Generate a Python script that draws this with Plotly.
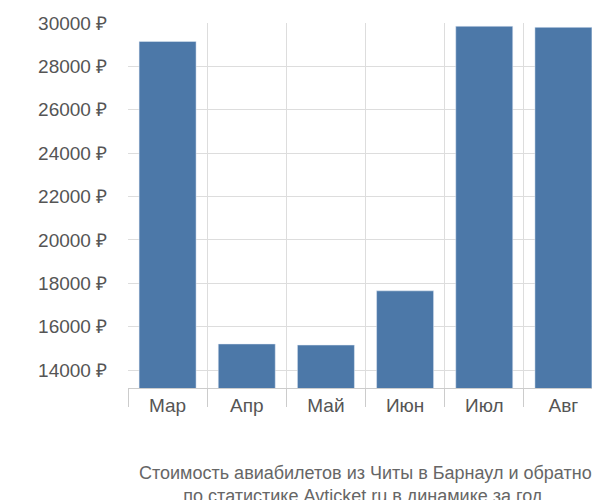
import plotly.graph_objects as go

months = ['Мар', 'Апр', 'Май', 'Июн', 'Июл', 'Авг']
prices = [29150, 15200, 15150, 17650, 29850, 29800]
y_ticks = [14000, 16000, 18000, 20000, 22000, 24000, 26000, 28000, 30000]

pos = list(range(len(months)))
bounds = [i - 0.5 for i in range(len(months) + 1)]

fig = go.Figure(go.Bar(x=pos, y=prices, marker_color='#4c78a8', width=0.72))
fig.update_layout(
    width=600, height=500,
    margin=dict(l=120, r=5, t=15, b=120),
    plot_bgcolor='white', paper_bgcolor='white',
    font=dict(family='Liberation Sans, Arial', size=19, color='#555'),
    showlegend=False,
    annotations=[dict(text='Стоимость авиабилетов из Читы в Барнаул и обратно<br>по статистике Avticket.ru в динамике за год.',
                      x=0.5, xref='paper', xanchor='center', y=-0.2, yref='paper', yanchor='top',
                      showarrow=False, font=dict(size=18, color='#666'))]
)
fig.update_xaxes(range=[-0.5, 5.5], tickvals=pos, ticktext=months, showgrid=False,
                 showline=True, linecolor='#ccc', ticks='',
                 minor=dict(tickvals=bounds, showgrid=True, gridcolor='#ddd',
                            ticks='outside', ticklen=18, tickcolor='#ccc'))
fig.update_yaxes(range=[13170, 30000], tickvals=y_ticks,
                 ticktext=[f'{v} ₽' for v in y_ticks], gridcolor='#ddd',
                 zeroline=False, ticks='outside', ticklen=16, tickcolor='rgba(0,0,0,0)')
fig.write_html('out.html')
